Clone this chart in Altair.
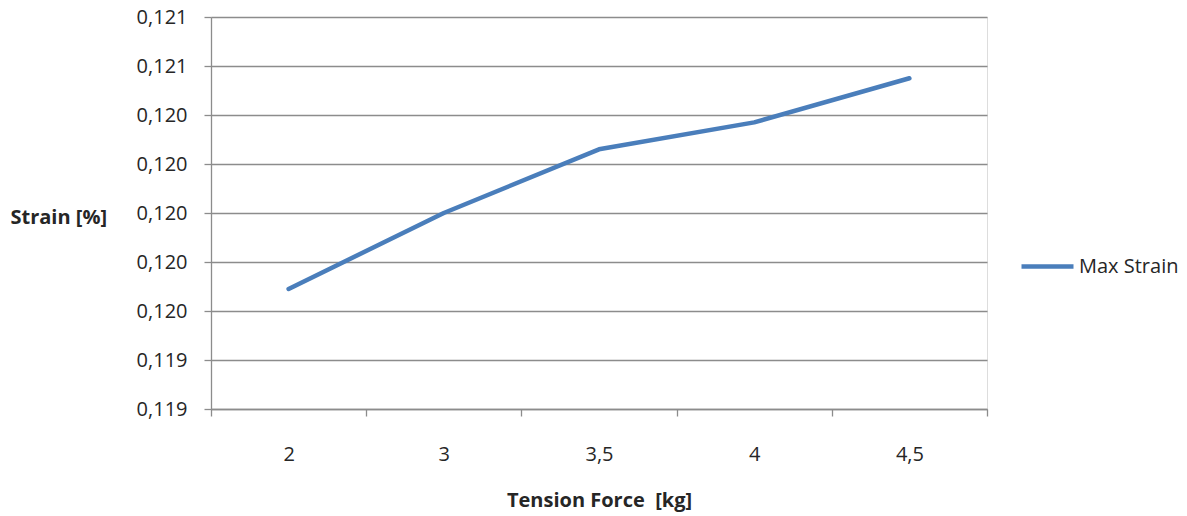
import altair as alt
import pandas as pd

tension_labels = ["2", "3", "3,5", "4", "4,5"]
max_strain = [0.11969, 0.12000, 0.12026, 0.12037, 0.12055]
series_name = "Max Strain"
y_ticks = [0.1192, 0.1194, 0.1196, 0.1198, 0.1200, 0.1202, 0.1204, 0.1206, 0.1208]

df = pd.DataFrame({
    "force": tension_labels,
    "strain": max_strain,
    "series": [series_name] * len(tension_labels),
})

FONT = "Open Sans"
TEXT = "#262626"
GRID = "#8c8c8c"

chart = alt.Chart(df).mark_line(
    strokeWidth=4.5, strokeCap="round", strokeJoin="round"
).encode(
    x=alt.X(
        "force:N",
        sort=tension_labels,
        bandPosition=0.5,
        scale=alt.Scale(type="band", paddingInner=0, paddingOuter=0),
        axis=alt.Axis(
            title="Tension Force\u00a0 [kg]",
            labelAngle=0,
            tickBand="extent",
            grid=False,
            domainColor=GRID,
            domainWidth=1.3,
            tickColor=GRID,
            tickWidth=1.3,
            tickSize=7,
            labelPadding=28,
            labelFont=FONT,
            labelFontSize=20,
            labelColor=TEXT,
            titleFont=FONT,
            titleFontSize=20,
            titleFontWeight="bold",
            titleColor=TEXT,
            titleY=91,
            titleBaseline="middle",
        ),
    ),
    y=alt.Y(
        "strain:Q",
        scale=alt.Scale(domain=[0.1192, 0.1208], nice=False, zero=False),
        axis=alt.Axis(
            title="Strain [%]",
            values=y_ticks,
            labelExpr="replace(format(datum.value, '.3f'), '.', ',')",
            grid=True,
            gridColor=GRID,
            gridWidth=1.3,
            domainColor=GRID,
            domainWidth=1.3,
            tickColor=GRID,
            tickWidth=1.3,
            tickSize=7,
            labelPadding=17,
            labelFont=FONT,
            labelFontSize=20,
            labelColor=TEXT,
            titleFont=FONT,
            titleFontSize=20,
            titleFontWeight="bold",
            titleColor=TEXT,
            titleAngle=0,
            titleAlign="left",
            titleBaseline="middle",
            titleX=-201,
            titleY=200,
        ),
    ),
    color=alt.Color(
        "series:N",
        scale=alt.Scale(range=["#4a7ebb"]),
        legend=alt.Legend(
            title=None,
            orient="none",
            legendX=808,
            legendY=221,
            symbolType="stroke",
            symbolSize=2704,
            symbolStrokeWidth=4.5,
            labelOffset=3,
            labelFont=FONT,
            labelFontSize=20,
            labelColor=TEXT,
            padding=0,
        ),
    ),
).properties(
    width=776,
    height=392,
    padding={"left": 211, "top": 17, "right": 200, "bottom": 107},
    autosize=alt.AutoSizeParams(type="none"),
).configure_view(strokeWidth=0).configure(background="white")

chart.save("out.html", embed_options={"renderer": "svg", "actions": False})
